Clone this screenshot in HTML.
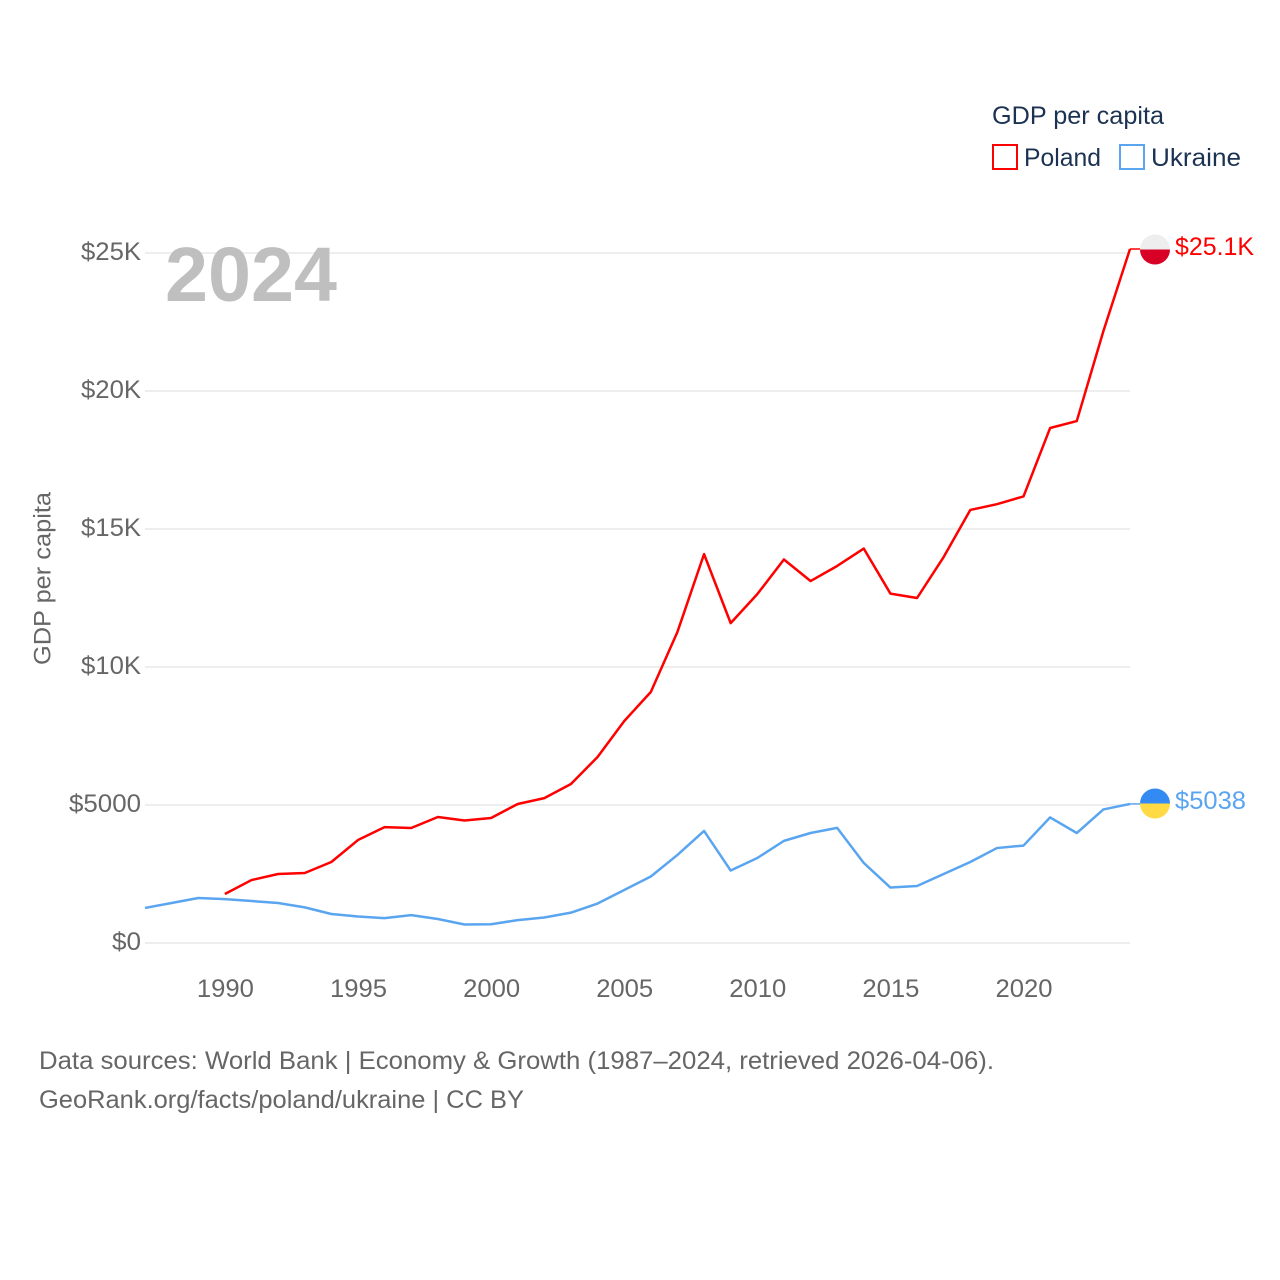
<!DOCTYPE html>
<html lang="en">
<head>
<meta charset="utf-8">
<title>GDP per capita: Poland and Ukraine</title>
<style>
  html, body { margin: 0; padding: 0; background: #fff; }
  svg { display: block; font-family: "Liberation Sans", sans-serif; }
</style>
</head>
<body>
<svg id="chart" xmlns="http://www.w3.org/2000/svg" width="1280" height="1280" viewBox="0 0 1280 1280">
  <rect width="1280" height="1280" fill="#ffffff"/>
  <g id="grid"></g>
  <g id="yticks"></g>
  <g id="xticks"></g>
  <text x="165" y="301" font-size="77" font-weight="700" fill="#bfbfbf" textLength="172" lengthAdjust="spacingAndGlyphs">2024</text>
  <text transform="translate(50.5,665) rotate(-90)" font-size="24" fill="#666666" textLength="173" lengthAdjust="spacingAndGlyphs">GDP per capita</text>
  <g id="series"></g>

  <g>
    <path d="M1140 249.500a15 15 0 0 1 30 0z" fill="#eeeeee"/>
    <path d="M1140 249.500a15 15 0 0 0 30 0z" fill="#d80027"/>
    <text x="1175" y="255" font-size="25" fill="#ff0000" textLength="79" lengthAdjust="spacingAndGlyphs">$25.1K</text>
  </g>
  <g>
    <path d="M1140 803.500a15 15 0 0 1 30 0z" fill="#338af3"/>
    <path d="M1140 803.500a15 15 0 0 0 30 0z" fill="#ffda44"/>
    <text x="1175" y="809" font-size="25" fill="#5aa5f0" textLength="71" lengthAdjust="spacingAndGlyphs">$5038</text>
  </g>

  <g>
    <text x="992" y="124" font-size="25" fill="#1b3252" textLength="172" lengthAdjust="spacingAndGlyphs">GDP per capita</text>
    <g>
      <rect x="993" y="145" width="24" height="24" fill="#ffffff" stroke="#ff0000" stroke-width="2"/>
      <text x="1024" y="166" font-size="25" fill="#1b3252" textLength="77" lengthAdjust="spacingAndGlyphs">Poland</text>
    </g>
    <g>
      <rect x="1120" y="145" width="24" height="24" fill="#ffffff" stroke="#5aa5f0" stroke-width="2"/>
      <text x="1151" y="166" font-size="25" fill="#1b3252" textLength="90" lengthAdjust="spacingAndGlyphs">Ukraine</text>
    </g>
  </g>

  <text x="39" y="1069" font-size="25" fill="#666666" textLength="955" lengthAdjust="spacingAndGlyphs">Data sources: World Bank | Economy &amp; Growth (1987–2024, retrieved 2026-04-06).</text>
  <text x="39" y="1108" font-size="25" fill="#666666" textLength="485" lengthAdjust="spacingAndGlyphs">GeoRank.org/facts/poland/ukraine | CC BY</text>
</svg>
<script>
const startYear = 1987;
const endYear = 2024;
const polandStartYear = 1990;
const polandValues = [1775, 2280, 2500, 2536, 2935, 3730, 4200, 4167, 4565, 4440, 4530, 5036, 5250, 5760, 6740, 8040, 9095, 11270, 14090, 11590, 12640, 13895, 13115, 13660, 14290, 12660, 12500, 13985, 15690, 15900, 16180, 18660, 18910, 22170, 25145];
const ukraineStartYear = 1987;
const ukraineValues = [1270, 1450, 1630, 1590, 1520, 1450, 1290, 1050, 960, 900, 1010, 870, 670, 680, 830, 925, 1100, 1430, 1920, 2410, 3190, 4060, 2625, 3080, 3700, 3985, 4170, 2900, 2010, 2065, 2500, 2935, 3440, 3530, 4550, 3985, 4840, 5038];
const yTickValues = [0, 5000, 10000, 15000, 20000, 25000];
const yTickLabels = ["$0", "$5000", "$10K", "$15K", "$20K", "$25K"];
const xTickYears = [1990, 1995, 2000, 2005, 2010, 2015, 2020];

const plotLeft = 145, plotRight = 1130, plotBottom = 943, plotTop = 253;
const NS = "http://www.w3.org/2000/svg";
function xScale(year) {
  return plotLeft + (year - startYear) * (plotRight - plotLeft) / (endYear - startYear);
}
function yScale(value) {
  return plotBottom - value * (plotBottom - plotTop) / 25000;
}
function make(tag, attrs) {
  const el = document.createElementNS(NS, tag);
  for (const k in attrs) el.setAttribute(k, attrs[k]);
  return el;
}

const gridGroup = document.getElementById("grid");
const yGroup = document.getElementById("yticks");
const yWidths = { 2: 29, 4: 60, 5: 72 };
yTickValues.forEach(function (v, i) {
  const line = make("line", { x1: plotLeft, x2: plotRight, y1: yScale(v), y2: yScale(v), stroke: "#eeeeee", "stroke-width": 2 });
  
  
  gridGroup.appendChild(line);
  const label = make("text", { x: 141, y: yScale(v) + 7, "text-anchor": "end", "font-size": 25, fill: "#666666", textLength: yWidths[yTickLabels[i].length], lengthAdjust: "spacingAndGlyphs" });
  
  
  label.textContent = yTickLabels[i];
  yGroup.appendChild(label);
});

const xGroup = document.getElementById("xticks");
xTickYears.forEach(function (yr) {
  const label = make("text", { x: xScale(yr) + 0.5, y: 997, "text-anchor": "middle", "font-size": 25, fill: "#666666", textLength: 57, lengthAdjust: "spacingAndGlyphs" });
  
  
  label.textContent = String(yr);
  xGroup.appendChild(label);
});

function buildPoints(values, firstYear) {
  return values.map(function (v, i) {
    return xScale(firstYear + i).toFixed(2) + "," + yScale(v).toFixed(2);
  }).join(" ");
}
const seriesGroup = document.getElementById("series");

const polandLine = make("polyline", { points: buildPoints(polandValues, polandStartYear), fill: "none", stroke: "#ff0000", "stroke-width": 2.5, "stroke-linejoin": "round" });


seriesGroup.appendChild(polandLine);

const ukraineLine = make("polyline", { points: buildPoints(ukraineValues, ukraineStartYear), fill: "none", stroke: "#5aa5f0", "stroke-width": 2.5, "stroke-linejoin": "round" });


seriesGroup.appendChild(ukraineLine);

const polandLast = polandValues[polandValues.length - 1];
const polandLeader = make("line", { x1: plotRight, x2: 1140, y1: yScale(polandLast), y2: yScale(polandLast), stroke: "#ff0000", "stroke-width": 1.5 });


seriesGroup.appendChild(polandLeader);

const ukraineLast = ukraineValues[ukraineValues.length - 1];
const ukraineLeader = make("line", { x1: plotRight, x2: 1140, y1: yScale(ukraineLast), y2: yScale(ukraineLast), stroke: "#5aa5f0", "stroke-width": 1.5 });


seriesGroup.appendChild(ukraineLeader);
</script>
</body>
</html>
